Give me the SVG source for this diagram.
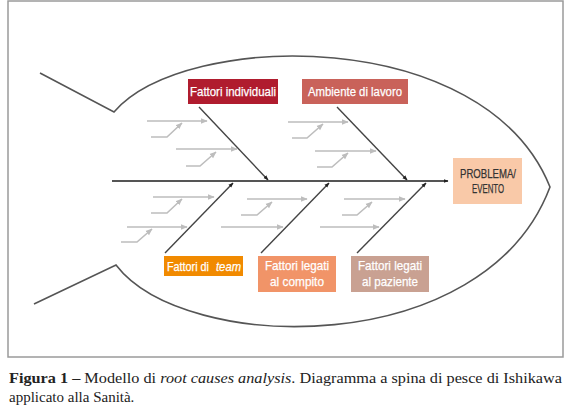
<svg xmlns="http://www.w3.org/2000/svg" width="570" height="410" viewBox="0 0 570 410">
<style>
.frame{fill:#fff;stroke:#9a9a9a;stroke-width:1.5}
.fish{fill:none;stroke:#555;stroke-width:1.6}
.main{fill:none;stroke:#444;stroke-width:1.4}
.spine{fill:none;stroke:#555;stroke-width:2}
.sub{fill:none;stroke:#bdbdbd;stroke-width:1.6}
.lbl{font-family:"Liberation Sans",Arial,sans-serif;font-size:13px;fill:#fff;stroke:#fff;stroke-width:0.25}
.dark{fill:#333;stroke:#333;font-size:13px}
.cap{font-family:"Liberation Serif","Times New Roman",serif;font-size:15px;fill:#222}
</style>
<defs>
<marker id="ah" viewBox="0 0 10 10" refX="9" refY="5" markerWidth="5" markerHeight="5" orient="auto" markerUnits="userSpaceOnUse">
<path d="M0,1 L10,5 L0,9 z" fill="#222"/>
</marker>
<marker id="ahs" viewBox="0 0 10 10" refX="9" refY="5" markerWidth="7" markerHeight="7" orient="auto" markerUnits="userSpaceOnUse">
<path d="M0,1 L10,5 L0,9 z" fill="#bdbdbd"/>
</marker>
</defs>
<rect class="frame" x="8" y="1" width="555" height="356"/>
<g id="fish">
<path class="fish" d="M40,73 L114,112 C185,30 485,25 550,187 C485,360 185,355 116,265 L34,304"/>
</g>
<g id="connectors">
<line class="spine" x1="112" y1="181" x2="448" y2="181" marker-end="url(#ah)"/>
<line class="main" x1="199" y1="107" x2="268" y2="180" marker-end="url(#ah)"/>
<line class="main" x1="337" y1="107" x2="407" y2="180" marker-end="url(#ah)"/>
<line class="main" x1="165" y1="253" x2="233" y2="183" marker-end="url(#ah)"/>
<line class="main" x1="261" y1="253" x2="329" y2="183" marker-end="url(#ah)"/>
<line class="main" x1="357" y1="253" x2="426" y2="183" marker-end="url(#ah)"/>
<g id="sub-upper-left">
<line class="sub" x1="147" y1="121" x2="207" y2="121" marker-end="url(#ahs)"/>
<polyline class="sub" points="151,137 167,137 182,123" marker-end="url(#ahs)"/>
<line class="sub" x1="176" y1="149" x2="237" y2="149" marker-end="url(#ahs)"/>
<polyline class="sub" points="186,166 200,166 216,152" marker-end="url(#ahs)"/>
</g>
<g id="sub-upper-right">
<line class="sub" x1="288" y1="122" x2="348" y2="122" marker-end="url(#ahs)"/>
<polyline class="sub" points="292,138 307,138 323,124" marker-end="url(#ahs)"/>
<line class="sub" x1="315" y1="151" x2="376" y2="151" marker-end="url(#ahs)"/>
<polyline class="sub" points="317,167 332,167 348,153" marker-end="url(#ahs)"/>
</g>
<g id="sub-lower-left">
<line class="sub" x1="153" y1="197" x2="214" y2="197" marker-end="url(#ahs)"/>
<polyline class="sub" points="151,213 167,213 182,199" marker-end="url(#ahs)"/>
<line class="sub" x1="127" y1="227" x2="187" y2="227" marker-end="url(#ahs)"/>
<polyline class="sub" points="121,242 137,242 152,229" marker-end="url(#ahs)"/>
</g>
<g id="sub-lower-mid">
<line class="sub" x1="247" y1="199" x2="307" y2="199" marker-end="url(#ahs)"/>
<polyline class="sub" points="241,215 257,215 272,202" marker-end="url(#ahs)"/>
<line class="sub" x1="221" y1="227" x2="283" y2="227" marker-end="url(#ahs)"/>
</g>
<g id="sub-lower-right">
<line class="sub" x1="344" y1="199" x2="405" y2="199" marker-end="url(#ahs)"/>
<polyline class="sub" points="342,215 357,215 372,202" marker-end="url(#ahs)"/>
<line class="sub" x1="320" y1="227" x2="379" y2="227" marker-end="url(#ahs)"/>
</g>
</g>
<g id="fattori-individuali">
<rect x="188" y="79" width="90" height="25" fill="#b01c2e"/>
<text class="lbl" x="190" y="96" textLength="86" lengthAdjust="spacingAndGlyphs">Fattori individuali</text>
</g>
<g id="ambiente-di-lavoro">
<rect x="302" y="79" width="106" height="25" fill="#c9625a"/>
<text class="lbl" x="308" y="96" textLength="94" lengthAdjust="spacingAndGlyphs">Ambiente di lavoro</text>
</g>
<g id="problema-evento">
<rect x="453" y="158" width="69" height="46" fill="#f9c9a8"/>
<text class="lbl dark" x="460" y="178" textLength="56" lengthAdjust="spacingAndGlyphs">PROBLEMA/</text>
<text class="lbl dark" x="472" y="193" textLength="32" lengthAdjust="spacingAndGlyphs">EVENTO</text>
</g>
<g id="fattori-di-team">
<rect x="164" y="256" width="79" height="20" fill="#f18a00"/>
<text class="lbl" x="167" y="271" textLength="42" lengthAdjust="spacingAndGlyphs">Fattori di</text>
<text class="lbl" x="216" y="271" textLength="25" lengthAdjust="spacingAndGlyphs" font-style="italic">team</text>
</g>
<g id="fattori-compito">
<rect x="258" y="256" width="78" height="36" fill="#f19468"/>
<text class="lbl" x="265" y="270" textLength="64" lengthAdjust="spacingAndGlyphs">Fattori legati</text>
<text class="lbl" x="270" y="286" textLength="54" lengthAdjust="spacingAndGlyphs">al compito</text>
</g>
<g id="fattori-paziente">
<rect x="351" y="256" width="78" height="36" fill="#c9a192"/>
<text class="lbl" x="358" y="270" textLength="64" lengthAdjust="spacingAndGlyphs">Fattori legati</text>
<text class="lbl" x="362" y="286" textLength="56" lengthAdjust="spacingAndGlyphs">al paziente</text>
</g>
<g id="caption">
<text class="cap" x="9" y="383" textLength="553" lengthAdjust="spacingAndGlyphs"><tspan font-weight="bold">Figura 1 –</tspan> Modello di <tspan font-style="italic">root causes analysis</tspan>. Diagramma a spina di pesce di Ishikawa</text>
<text class="cap" x="9" y="402">applicato alla Sanità.</text>
</g>
</svg>
